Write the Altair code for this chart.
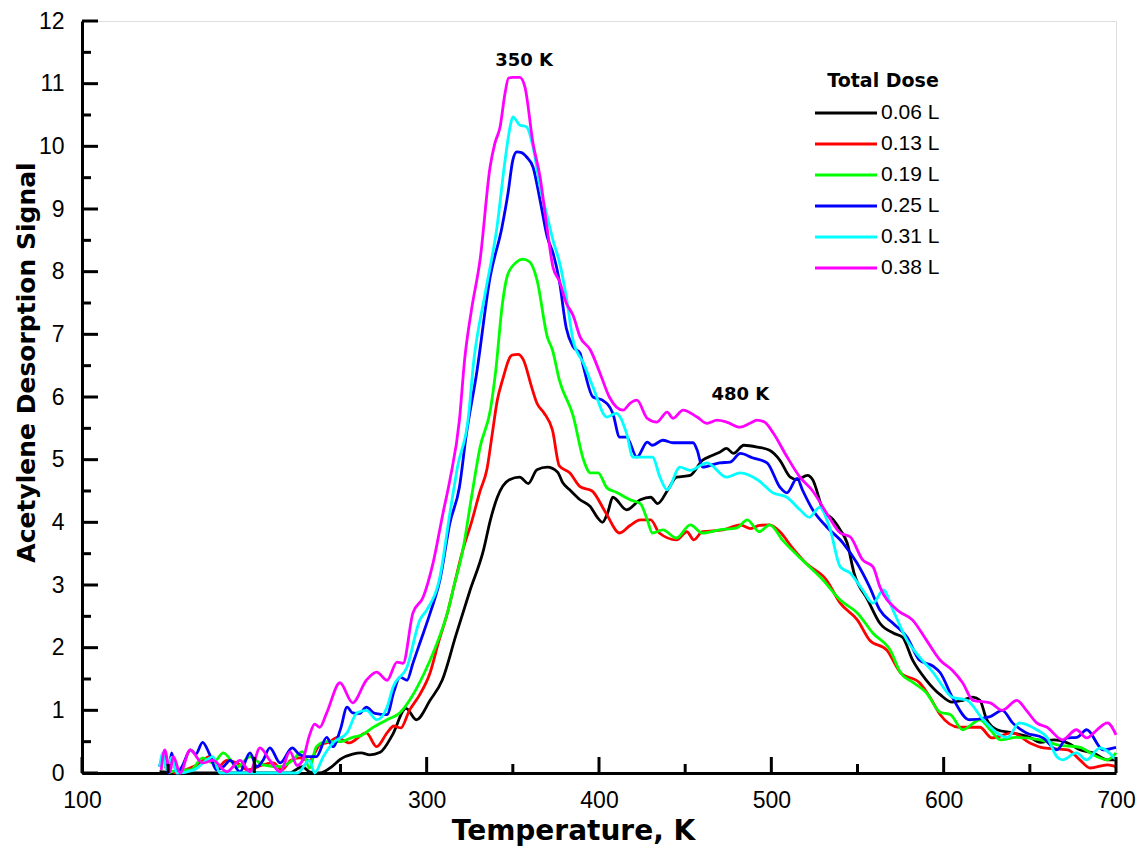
import altair as alt
import pandas as pd

# ---------------- data ----------------
doses = ["0.06 L", "0.13 L", "0.19 L", "0.25 L", "0.31 L", "0.38 L"]
colors = ["#000000", "#ff0000", "#00ff00", "#0000ff", "#00ffff", "#ff00ff"]

black = [(145,0.02),(160,0.0),(180,0.0),(200,0.0),(220,0.0),(228,0.1),(232,0.02),(238,0.0),(245,0.1),(250,0.22),
         (257,0.3),(262,0.32),(267,0.29),(273,0.33),(280,0.6),(288,1.03),(294,0.85),(302,1.16),(309,1.48),(317,2.2),
         (325,2.9),(333,3.56),(337,4.04),(341,4.4),(348,4.68),(354,4.72),(359,4.62),(364,4.84),(370,4.88),(376,4.8),
         (379,4.63),(383,4.52),(389,4.36),(395,4.25),(399,4.08),(402,4.0),(405,4.15),(408,4.4),(416,4.2),(424,4.36),
         (430,4.4),(434,4.3),(440,4.52),(445,4.72),(453,4.75),(460,4.99),(466,5.07),(470,5.12),(474,5.18),(478,5.1),
         (484,5.23),(492,5.2),(499,5.15),(505,4.99),(511,4.72),(515,4.68),(521,4.75),(524,4.68),(530,4.2),(536,4.04),
         (540,3.88),(544,3.67),(548,3.19),(556,2.76),(563,2.39),(571,2.23),(576,2.17),(582,1.8),(590,1.48),(598,1.25),
         (605,1.13),(611,1.16),(617,1.21),(621,1.16),(625,0.85),(631,0.69),(640,0.64),(650,0.57),(656,0.49),(664,0.53),
         (672,0.48),(679,0.37),(687,0.32),(695,0.21),(700,0.21)]

red = [(148,0.1),(155,0.0),(160,0.05),(167,0.13),(174,0.26),(179,0.1),(184,0.2),(190,0.16),(196,0.05),(205,0.13),
       (211,0.16),(216,0.05),(221,0.2),(226,0.24),(232,0.2),(238,0.45),(244,0.5),(248,0.57),(255,0.48),(265,0.64),
       (271,0.42),(277,0.64),(281,0.75),(285,0.72),(290,1.0),(296,1.25),(302,1.6),(307,2.1),(312,2.55),(316,3.0),
       (321,3.56),(326,4.0),(331,4.5),(335,4.85),(338,5.4),(341,5.95),(344,6.27),(349.5,6.67),(353,6.68),(356,6.6),
       (361,6.15),(364,5.9),(368,5.75),(373,5.47),(377,4.9),(383,4.79),(389,4.57),(396,4.5),(404,4.15),(412,3.83),
       (418,3.95),(424,4.04),(430,4.04),(435,3.83),(445,3.72),(451,3.85),(455,3.72),(460,3.85),(472,3.88),(482,3.96),
       (488,3.9),(493,3.95),(499,3.96),(505,3.85),(512,3.6),(520,3.35),(532,3.08),(540,2.71),(550,2.44),(557,2.12),
       (567,1.96),(575,1.6),(586,1.44),(592,1.21),(598,0.93),(609,0.73),(621,0.73),(628,0.56),(640,0.64),(650,0.48),
       (658,0.4),(672,0.37),(679,0.21),(685,0.08),(695,0.13),(700,0.1)]

green = [(150,0.0),(157,0.05),(163,0.05),(170,0.24),(176,0.16),(182,0.32),(190,0.1),(197.5,0.26),(205,0.13),(215,0.1),
         (222,0.2),(228,0.34),(232,0.08),(236,0.42),(242,0.5),(250,0.5),(257,0.57),(262,0.6),(269,0.73),(277,0.85),
         (284.5,0.96),(291,1.2),(298,1.56),(305,2.0),(312,2.55),(316,3.0),(321,3.56),(326,4.4),(331,5.2),(337,5.8),
         (340,6.4),(344,7.5),(347,7.95),(352,8.15),(356,8.2),(360,8.15),(364,7.87),(370,6.96),(373,6.75),(377,6.27),
         (385,5.7),(391,5.0),(395,4.79),(399.5,4.79),(404.6,4.55),(410,4.48),(418,4.36),(424,4.3),(428,4.04),(431,3.83),
         (437,3.88),(445,3.75),(453,3.96),(460,3.83),(470,3.88),(480,3.91),(486,4.04),(493,3.85),(499,3.96),(507,3.7),
         (516,3.45),(530,3.08),(540,2.76),(550,2.55),(559,2.23),(569,1.96),(575,1.6),(582,1.45),(590,1.28),(598,0.97),
         (604,0.93),(611,0.69),(621,0.85),(627,0.69),(633,0.53),(642,0.57),(656,0.53),(666,0.45),(679,0.41),(689,0.26),
         (695,0.21),(700,0.32)]

blue = [(145,0.1),(148,0.3),(150,0.0),(152,0.32),(155,0.0),(158,0.1),(163,0.37),(166,0.3),(170,0.49),(174,0.3),
        (178,0.05),(182,0.1),(186,0.2),(191.7,0.02),(197.5,0.32),(201.5,0.1),(205,0.2),(209,0.4),(215,0.16),(222,0.4),
        (226,0.3),(230.5,0.26),(236,0.26),(242,0.57),(245.6,0.42),(250,0.7),(253.8,1.05),(257,0.96),(261,0.95),(265,1.05),
        (270,0.95),(277,0.93),(281,1.3),(284.5,1.53),(288.6,1.48),(292,1.75),(296,2.07),(302,2.55),(307.7,3.08),(313.5,3.99),
        (319,4.56),(323,5.4),(329,6.38),(336.8,7.91),(343.7,8.71),(347.2,9.25),(350,9.78),(352.3,9.91),(355,9.9),(358,9.83),
        (361.7,9.67),(365.8,9.14),(370,8.55),(373.3,8.3),(377,7.85),(381,7.1),(385,6.8),(389,6.7),(391,6.48),(396.5,6.0),
        (402,5.95),(408,5.74),(412,5.36),(416,5.36),(422,5.04),(428,5.28),(431,5.23),(437,5.31),(443,5.27),(454.6,5.27),
        (457,5.15),(460,4.88),(470,4.95),(476,4.96),(482,5.1),(489,5.03),(497.5,4.95),(505,4.56),(509,4.47),(515,4.7),
        (518,4.52),(524,4.2),(532,3.93),(541.6,3.67),(549.7,3.35),(557,2.97),(563,2.6),(570.6,2.39),(578.7,2.17),(586,1.8),
        (594,1.7),(598,1.6),(605,1.21),(615,0.85),(627,0.9),(634,1.0),(640,0.8),(648,0.64),(657.6,0.56),(665.7,0.37),
        (671.6,0.56),(677.4,0.57),(683,0.69),(692.5,0.37),(700,0.41)]

cyan = [(145,0.1),(147,0.32),(149,0.05),(152,0.25),(155,0.0),(165,0.05),(172,0.2),(176,0.26),(180,0.0),(200,0.0),
        (215,0.0),(225,0.0),(232,0.2),(235,0.0),(240,0.26),(245.6,0.48),(253.8,0.64),(259.6,0.96),(265,1.0),(271,0.85),
        (277,1.05),(280.5,1.37),(288.6,1.69),(296,2.44),(300,2.6),(307.7,3.13),(313.5,4.15),(318,4.9),(324,5.63),(327.4,6.59),
        (334,7.66),(340.8,8.71),(345.5,9.78),(348.4,10.31),(350,10.47),(354,10.34),(358,10.31),(361.7,9.99),(365.8,9.35),(370,8.88),
        (373.3,8.5),(377,8.16),(381,7.6),(385,6.9),(391,6.54),(396.5,6.16),(404.6,5.68),(410,5.74),(416,5.42),(419.7,5.04),
        (428,5.04),(431,5.04),(435.4,4.72),(439.5,4.52),(447,4.88),(452.8,4.83),(462.7,4.95),(474,4.72),(482,4.79),(492,4.68),
        (501,4.47),(509,4.4),(516.6,4.2),(522,4.08),(528,4.24),(534,3.9),(540,3.29),(545.7,3.19),(553,2.92),(559,2.71),
        (565,2.92),(570.6,2.6),(578.7,2.12),(586,1.85),(594,1.6),(598,1.44),(605,1.21),(613.5,1.16),(623,0.85),(637,0.57),
        (644,0.8),(654,0.69),(660,0.57),(665.7,0.26),(669,0.21),(677,0.32),(683,0.21),(690.7,0.4),(700,0.21)]

magenta = [(146,0.05),(148,0.37),(151,0.02),(153,0.26),(157,0.0),(162.7,0.37),(170,0.16),(176,0.2),(184,0.02),(191.7,0.2),
           (197.5,0.02),(203.3,0.4),(209,0.2),(215,0.02),(220.7,0.34),(224.8,0.12),(228,0.2),(232,0.6),(235,0.78),(238,0.73),
           (242,0.96),(249.7,1.44),(257,1.12),(265,1.48),(271,1.61),(277,1.48),(282.8,1.77),(286.3,1.75),(292,2.55),(298,2.81),
           (303.7,3.35),(309.5,4.15),(313.5,4.68),(319,5.63),(322,6.59),(326,7.39),(331,8.19),(336.8,9.67),(339.6,10.05),(342.6,10.31),
           (345.5,10.85),(347.5,11.09),(350,11.1),(354,11.1),(357,10.95),(361.7,10.05),(365.8,9.51),(369.8,8.71),(373.3,8.07),(377,7.85),
           (381,7.5),(385,7.3),(389,6.96),(395,6.75),(400.6,6.38),(406,6.0),(414,5.79),(418,5.9),(422,5.95),(428,5.66),
           (433.6,5.6),(439.5,5.76),(443,5.66),(448.8,5.79),(456.9,5.68),(462.7,5.58),(468.5,5.63),(474,5.6),(481.8,5.52),(487.6,5.58),
           (491.7,5.63),(496,5.6),(501,5.43),(509,5.05),(516.6,4.72),(524,4.5),(532,4.15),(540,3.83),(545.7,3.77),(553,3.4),
           (559,3.29),(563,2.97),(573,2.6),(582,2.44),(590,2.12),(598,1.8),(605,1.64),(611,1.44),(617,1.16),(627,1.12),
           (634,1.0),(642.5,1.16),(648,1.0),(654,0.8),(660,0.73),(669,0.53),(677,0.69),(683,0.56),(689,0.69),(695,0.8),
           (700,0.61)]

series = [black, red, green, blue, cyan, magenta]

x_major = [100, 200, 300, 400, 500, 600, 700]
x_minor = [150, 250, 350, 450, 550, 650]
y_major = list(range(0, 13))
y_minor = [i + 0.5 for i in range(0, 12)]

ann_text = ["350 K", "480 K"]
ann_T = [356.5, 482]
ann_v = [11.36, 6.03]

# ---------------- frames ----------------
rows = []
for k, (name, pts) in enumerate(zip(doses, series)):
    for t, v in pts:
        rows.append({"T": t, "v": v, "dose": name, "k": k})
df = pd.DataFrame(rows)

W, H = 1034, 752
XD = [100, 700]
YD = [0, 12]

xs = alt.Scale(domain=XD, nice=False, zero=False)
ys = alt.Scale(domain=YD, nice=False, zero=False)

LABEL_FONT = "Liberation Sans"
BOLD_FONT = "DejaVu Sans"

lines = alt.Chart(df).mark_line(strokeWidth=2.8, interpolate="monotone").encode(
    x=alt.X("T:Q", scale=xs,
            axis=alt.Axis(values=x_major, format="d", ticks=False, grid=False, domainWidth=3, domainColor="black",
                          labelFont=LABEL_FONT, labelFontSize=23, labelColor="black", labelPadding=16,
                          labelFlush=False, labelOverlap=False,
                          title="Temperature, K", titleFont=BOLD_FONT, titleFontSize=28, titleFontWeight="bold",
                          titleColor="black", titleX=491, titleY=66, titleAlign="center",
                          titleBaseline="alphabetic")),
    y=alt.Y("v:Q", scale=ys,
            axis=alt.Axis(values=y_major, format="d", ticks=False, grid=False, domainWidth=3, domainColor="black",
                          labelFont=LABEL_FONT, labelFontSize=23, labelColor="black", labelPadding=18,
                          labelFlush=False, labelOverlap=False,
                          title="Acetylene Desorption Signal", titleFont=BOLD_FONT, titleFontSize=25,
                          titleFontWeight="bold", titleColor="black", titleX=-48, titleY=341,
                          titleAlign="center", titleBaseline="alphabetic")),
    color=alt.Color("dose:N", scale=alt.Scale(domain=doses, range=colors), legend=None),
    detail="dose:N",
)

xmaj = alt.Chart(pd.DataFrame({"t": x_major})).mark_rule(strokeWidth=3, color="black").encode(
    x=alt.X("t:Q", scale=xs), y=alt.value(H), y2=alt.value(H - 16))
xmin = alt.Chart(pd.DataFrame({"t": x_minor})).mark_rule(strokeWidth=3, color="black").encode(
    x=alt.X("t:Q", scale=xs), y=alt.value(H), y2=alt.value(H - 9))
ymaj = alt.Chart(pd.DataFrame({"t": y_major})).mark_rule(strokeWidth=3, color="black").encode(
    y=alt.Y("t:Q", scale=ys), x=alt.value(0), x2=alt.value(16))
ymin = alt.Chart(pd.DataFrame({"t": y_minor})).mark_rule(strokeWidth=3, color="black").encode(
    y=alt.Y("t:Q", scale=ys), x=alt.value(0), x2=alt.value(9))

ann = alt.Chart(pd.DataFrame({"text": ann_text, "T": ann_T, "v": ann_v})).mark_text(
    font=BOLD_FONT, fontSize=18, fontWeight="bold", color="black", align="center", baseline="middle").encode(
    x=alt.X("T:Q", scale=xs), y=alt.Y("v:Q", scale=ys), text="text:N")

# legend (manual)
leg_df = pd.DataFrame({"label": doses, "rank": list(range(len(doses)))})
leg_base = alt.Chart(leg_df).transform_calculate(py="92 + 31 * datum.rank")
leg_lines = leg_base.mark_rule(strokeWidth=3).encode(
    x=alt.value(733), x2=alt.value(795), y=alt.Y("py:Q", scale=None),
    color=alt.Color("label:N", scale=alt.Scale(domain=doses, range=colors), legend=None))
leg_text = leg_base.mark_text(font=LABEL_FONT, fontSize=21, color="black", align="left", baseline="middle").encode(
    x=alt.value(799), y=alt.Y("py:Q", scale=None), text="label:N")
leg_title = alt.Chart(pd.DataFrame({"t": ["Total Dose"]})).mark_text(
    font=BOLD_FONT, fontSize=19, fontWeight="bold", color="black", align="center", baseline="middle").encode(
    x=alt.value(801), y=alt.value(60), text="t:N")

chart = alt.layer(lines, xmaj, xmin, ymaj, ymin, ann, leg_lines, leg_text, leg_title).properties(
    width=W, height=H,
    padding={"left": 82, "top": 21, "right": 25, "bottom": 75},
    autosize=alt.AutoSizeParams(type="none"),
).configure_view(stroke=None).configure(background="white")

chart.save("out.html", embed_options={"renderer": "svg", "actions": False})
